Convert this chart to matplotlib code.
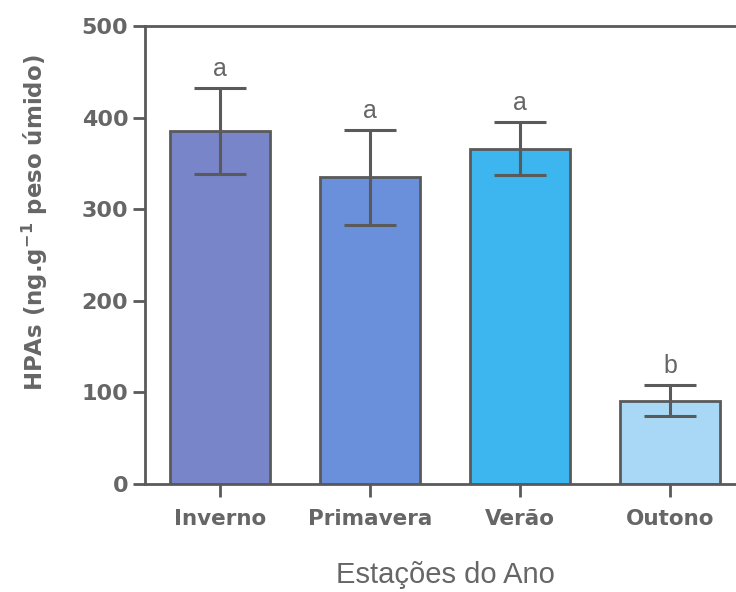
import matplotlib
matplotlib.use("Agg")
import matplotlib.pyplot as plt

# Seasonal PAH concentrations (ng/g wet weight)
seasons = ["Inverno", "Primavera", "Verão", "Outono"]
means = [385, 335, 366, 91]
errors = [47, 52, 29, 17]
groups = ["a", "a", "a", "b"]
bar_colors = ["#7885C9", "#6A8FDB", "#3DB5EE", "#A9D8F6"]
y_ticks = [0, 100, 200, 300, 400, 500]

edge = "#5a5a5a"
text_gray = "#666666"

fig = plt.figure(figsize=(7.36, 5.92), dpi=100)
ax = fig.add_axes([145 / 736, 108 / 592, 600 / 736, 458 / 592])

x = list(range(len(seasons)))
ax.bar(x, means, width=0.667, color=bar_colors, edgecolor=edge, linewidth=2, zorder=2)
ax.errorbar(x, means, yerr=errors, fmt="none", ecolor=edge, elinewidth=2.2,
            capsize=19, capthick=2.2, zorder=3)

for xi, m, e, g in zip(x, means, errors, groups):
    ax.annotate(g, (xi, m + e), xytext=(0, 5), textcoords="offset points",
                ha="center", va="bottom", fontsize=18, color=text_gray,
                family="Liberation Sans")

ax.set_xlim(-0.5, 3.5)
ax.set_ylim(0, 500)
ax.set_yticks(y_ticks)
ax.set_xticks(x)
ax.set_xticklabels(seasons)

for side in ["left", "bottom", "top", "right"]:
    ax.spines[side].set_color(edge)
    ax.spines[side].set_linewidth(2)

ax.tick_params(axis="both", colors=edge, width=2, length=9, direction="out")
ax.tick_params(axis="y", labelsize=16, labelcolor=text_gray, pad=3)
ax.tick_params(axis="x", labelsize=15.5, labelcolor=text_gray, pad=9)
for lbl in ax.get_yticklabels() + ax.get_xticklabels():
    lbl.set_fontweight("bold")

ax.set_ylabel(r"HPAs (ng.g$^{\mathbf{-1}}$ peso úmido)", fontsize=16.5, fontweight="bold",
              color=text_gray)
ax.yaxis.set_label_coords(-0.158, 0.57)
ax.set_xlabel("Estações do Ano", fontsize=21, color=text_gray,
              family="Liberation Sans")
ax.xaxis.set_label_coords(0.5, -0.168)

fig.savefig("out.png", dpi=100)
